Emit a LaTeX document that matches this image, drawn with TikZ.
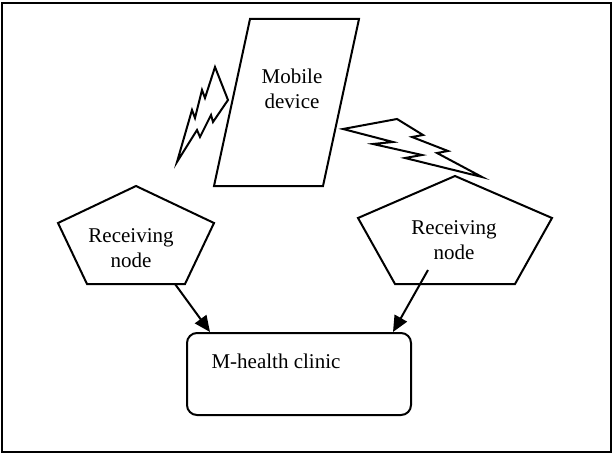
\documentclass[tikz,border=0pt]{standalone}
\usepackage{fontspec}
\setmainfont{Liberation Serif}
\usetikzlibrary{arrows.meta}

\begin{document}
\begin{tikzpicture}[x=0.5pt,y=-0.5pt,line width=1pt,line join=miter,
    label/.style={font=\fontsize{10.5}{12.5}\selectfont,align=center,inner sep=0pt},
    clinicbox/.style={draw,rounded corners=5pt,minimum width=112pt,minimum height=41pt,inner sep=0pt},
    feed/.style={-{Triangle[length=8pt,width=7pt]}}]
    \useasboundingbox (0,0) rectangle (614,454);
    \draw (2,3) rectangle (611,452);
    % mobile device
    \draw (250,19) -- (359,19) -- (323,186) -- (214,186) -- cycle;
    \node[label] (mobile) at (292,89) {Mobile\\device};
    % lightning bolts
    \draw (177,162) -- (192,110) -- (195,118) -- (202,90) -- (205,98) -- (215,67)
        -- (228,100) -- (213,122) -- (211,115) -- (200,137) -- (197,130) -- cycle;
    \draw (343,129) -- (397,119) -- (423,135) -- (412,137) -- (448,151) -- (437,153)
        -- (482,177) -- (405,158) -- (422,155) -- (373,144) -- (393,142) -- cycle;
    % receiving nodes
    \draw (136,186) -- (214,223) -- (185,284) -- (87,284) -- (58,223) -- cycle;
    \node[label] (recvA) at (131,248) {Receiving\\node};
    \draw (455,176) -- (552,218) -- (515,284) -- (395,284) -- (358,218) -- cycle;
    \node[label] (recvB) at (454,240) {Receiving\\node};
    \coordinate (outA) at (175,284);
    \coordinate (outB) at (428,270);
    % clinic
    \node[clinicbox] (clinic) at (299,374) {};
    \node[label] (clinictext) at (276,361) {M-health clinic};
    \draw[feed] (outA) -- ([xshift=12pt]clinic.north west);
    \draw[feed] (outB) -- ([xshift=-9.5pt]clinic.north east);
\end{tikzpicture}
\end{document}
